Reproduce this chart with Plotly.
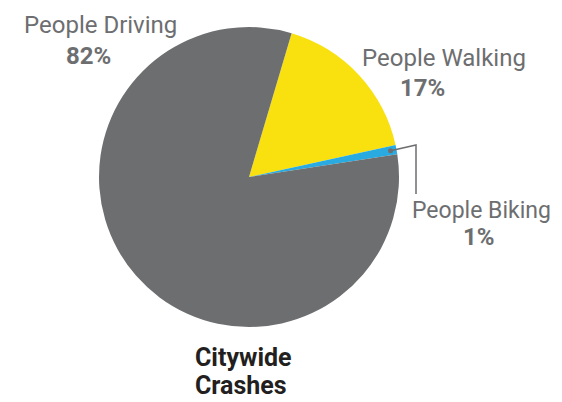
import math
import plotly.graph_objects as go

categories = ["People Walking", "People Biking", "People Driving"]
shares = [17, 1, 82]
pct_labels = ["17%", "1%", "82%"]
colors = ["#f9e00f", "#29abe2", "#6d6e70"]
title_lines = ["Citywide", "Crashes"]

# page body adds an 8px margin, so coordinates are shifted to compensate
OFF = 8
W, H = 562, 402
cx, cy, R = 249, 177, 150
rotation = 16.5


def px(x):
    return (x - OFF) / W


def py(y):
    return 1 - (y - OFF) / H


fig = go.Figure(go.Pie(
    labels=categories, values=shares, sort=False, direction="clockwise",
    rotation=rotation, marker=dict(colors=colors, line=dict(width=0)),
    textinfo="none", hoverinfo="label+percent", showlegend=False,
    domain=dict(x=[px(cx - R), px(cx + R)], y=[py(cy + R), py(cy - R)]),
))

gray = "#6d6e70"
FONT = "Roboto"
ann = []
label_pos = {
    "People Driving": ((100, 25), (88, 56), 24),
    "People Walking": ((443.5, 58), (422.5, 88), 24),
    "People Biking": ((482, 210.5), (479, 237), 23),
}
for cat, pct in zip(categories, pct_labels):
    (lx, ly), (qx, qy), size = label_pos[cat]
    ann.append(dict(x=px(lx), y=py(ly), xref="paper", yref="paper", text=cat, showarrow=False,
                    font=dict(family=FONT, size=size, color=gray), xanchor="center", yanchor="middle"))
    ann.append(dict(x=px(qx), y=py(qy), xref="paper", yref="paper", text="<b>" + pct + "</b>", showarrow=False,
                    font=dict(family=FONT, size=24, color=gray), xanchor="center", yanchor="middle"))
for i, t in enumerate(title_lines):
    ann.append(dict(x=px(193), y=py(357 + 28 * i), xref="paper", yref="paper", text="<b>" + t + "</b>",
                    showarrow=False, font=dict(family=FONT, size=25, color="#231f20"),
                    xanchor="left", yanchor="middle"))

# leader line for biking slice, from slice midpoint
total = sum(shares)
start = rotation + 360 * shares[0] / total
mid = start + 360 * shares[1] / total / 2
r_dot = R - 6
dx = cx + r_dot * math.sin(math.radians(mid))
dy = cy - r_dot * math.cos(math.radians(mid))
shapes = [
    dict(type="path", xref="paper", yref="paper",
         path=f"M {px(dx)} {py(dy)} L {px(416)} {py(145)} L {px(416)} {py(194)}",
         line=dict(color=gray, width=1.5)),
    dict(type="circle", xref="paper", yref="paper",
         x0=px(dx - 2.5), x1=px(dx + 2.5), y0=py(dy + 2.5), y1=py(dy - 2.5),
         fillcolor=gray, line=dict(width=0)),
]

fig.update_layout(width=W, height=H, margin=dict(l=0, r=0, t=0, b=0),
                  paper_bgcolor="white", plot_bgcolor="white",
                  annotations=ann, shapes=shapes)
fig.write_html("out.html")
